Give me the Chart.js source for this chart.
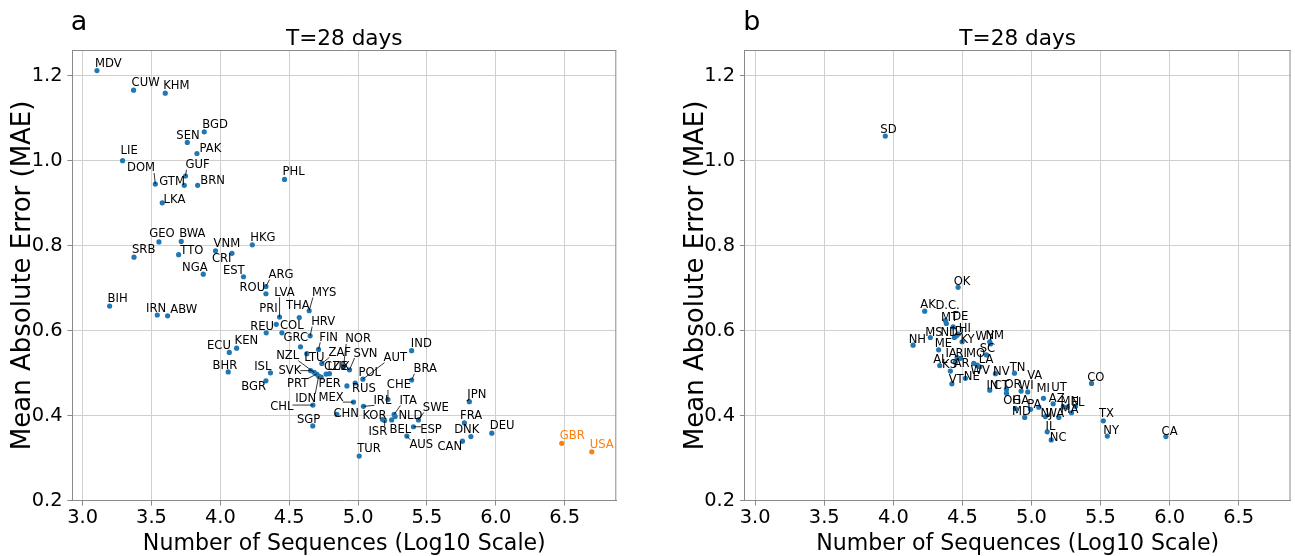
<!DOCTYPE html>
<html><head><meta charset="utf-8">
<script src="https://cdn.jsdelivr.net/npm/chart.js@4.4.1/dist/chart.umd.min.js"></script>
<style>
html,body{margin:0;padding:0;background:#fff;}
#wrap{position:relative;width:1295px;height:556px;overflow:hidden;background:#fff;}
canvas{position:absolute;top:0;}
</style></head><body>
<div id="wrap">
<canvas id="cA" width="660" height="556" style="left:0px;width:660px;height:556px"></canvas>
<canvas id="cB" width="635" height="556" style="left:660px;width:635px;height:556px"></canvas>
</div>
<script>
// ---------------- data ----------------
const panelTitle = 'T=28 days';
const xAxisTitle = 'Number of Sequences (Log10 Scale)';
const yAxisTitle = 'Mean Absolute Error (MAE)';
const xTickValues = [3.0, 3.5, 4.0, 4.5, 5.0, 5.5, 6.0, 6.5];
const yTickValues = [0.2, 0.4, 0.6, 0.8, 1.0, 1.2];
const highlightedCountries = ['GBR', 'USA'];

const countryNames = ['MDV','CUW','KHM','BGD','SEN','PAK','LIE','GUF','PHL','DOM','GTM','BRN','LKA','GEO','BWA','HKG','VNM','CRI','TTO','SRB','NGA','EST','ARG','ROU','BIH','MYS','IRN','ABW','LVA','THA','PRI','REU','COL','HRV','GRC','KEN','FIN','IND','ECU','LTU','ZAF','NOR','SVN','SVK','BHR','NZL','ISL','LUX','CZE','PRT','IDN','PER','AUT','BRA','BGR','POL','RUS','CHE','JPN','MEX','CHL','IRL','CHN','ITA','NLD','KOR','BEL','SWE','ISR','FRA','SGP','ESP','DEU','AUS','DNK','CAN','GBR','USA','TUR'];
const countryLog10Seqs = [3.104,3.370,3.600,3.883,3.760,3.830,3.290,3.747,4.466,3.528,3.738,3.835,3.578,3.554,3.716,4.232,3.965,4.084,3.697,3.373,3.876,4.168,4.331,4.331,3.196,4.645,3.542,3.617,4.430,4.573,4.406,4.333,4.447,4.652,4.582,4.118,4.713,5.389,4.065,4.628,4.737,4.894,4.938,4.656,4.057,4.681,4.364,4.792,4.768,4.700,4.714,4.732,5.035,5.389,4.331,4.979,4.919,5.217,5.808,4.967,4.672,5.039,4.846,5.262,5.269,5.178,5.244,5.438,5.193,5.772,4.671,5.402,5.971,5.354,5.819,5.758,6.479,6.697,5.008];
const countryMAE = [1.212,1.166,1.159,1.068,1.043,1.017,1.000,0.964,0.956,0.945,0.942,0.942,0.901,0.809,0.810,0.802,0.788,0.782,0.779,0.773,0.733,0.727,0.704,0.687,0.658,0.647,0.637,0.635,0.632,0.631,0.615,0.595,0.595,0.588,0.562,0.559,0.556,0.553,0.549,0.546,0.523,0.515,0.508,0.506,0.503,0.502,0.501,0.499,0.498,0.498,0.493,0.491,0.486,0.484,0.482,0.477,0.470,0.438,0.433,0.432,0.425,0.422,0.403,0.403,0.398,0.391,0.390,0.390,0.389,0.383,0.376,0.374,0.359,0.352,0.351,0.340,0.335,0.315,0.305];

const stateNames = ['SD','OK','AK','D.C.','MT','DE','MS','ND','ID','HI','NH','ME','KY','WY','NM','SC','IA','RI','MO','LA','WV','AL','KS','AR','VT','NE','NV','TN','IN','CT','OR','WI','VA','OH','MD','GA','PA','NJ','IL','NC','AZ','MI','UT','WA','MN','MA','FL','CO','TX','NY','CA'];
const stateLog10Seqs = [3.942,4.469,4.227,4.377,4.384,4.433,4.268,4.442,4.457,4.471,4.143,4.328,4.498,4.698,4.703,4.674,4.462,4.486,4.582,4.607,4.626,4.336,4.413,4.449,4.424,4.522,4.739,4.877,4.698,4.819,4.819,4.925,4.973,4.884,4.951,4.993,5.053,5.101,5.114,5.143,5.157,5.087,5.230,5.198,5.259,5.290,5.319,5.435,5.520,5.549,5.973];
const stateMAE = [1.058,0.702,0.646,0.624,0.617,0.609,0.584,0.584,0.588,0.592,0.566,0.555,0.574,0.574,0.569,0.543,0.537,0.535,0.523,0.519,0.515,0.518,0.505,0.526,0.475,0.488,0.499,0.500,0.460,0.462,0.453,0.458,0.456,0.417,0.396,0.415,0.420,0.398,0.362,0.343,0.428,0.441,0.421,0.396,0.420,0.407,0.422,0.476,0.388,0.352,0.351];

// ---------------- layout / style (not data) ----------------
const BLUE = '#1f77b4', ORANGE = '#ff7f0e';
const GRID = '#d0d0d0', SPINE = '#8a8a8a';
const FONT = 'DejaVu Sans';
const X_MIN = 2.925, X_MAX = 6.875, Y_MIN = 0.2, Y_MAX = 1.2605;

// label offsets in pixels (left, baseline) relative to the point
const countryLabelOffsets = {
 SEN:[-11,-3], PAK:[2.6,-1], LIE:[-2,-6.4], DOM:[-28.3,-12.6], GUF:[0,-7.7], GTM:[-25,0], BRN:[2.7,-1], LKA:[1.3,0],
 GEO:[-9.7,-4.7], TTO:[1.7,-0.7], CRI:[-20,8.4], NGA:[-21.3,-3.6], EST:[-20.6,-2.4], ARG:[2.6,-8.4], ROU:[-26.4,-2.7],
 LVA:[-5.3,-21.3], PRI:[-17,-12.3], THA:[-13.3,-9], MYS:[2.7,-14.7], REU:[-16,-3], HRV:[1,-10.7], GRC:[-17,-6],
 FIN:[0.7,-8.6], ECU:[-22.3,-3], IRN:[-11.3,-3.3], ABW:[2.7,-3], BHR:[-15.7,-3], ISL:[-16.3,-2.7], BGR:[-24.7,9.3],
 NZL:[-38,-13.2], LTU:[-2.7,7.5], ZAF:[6.6,-7.6], SVN:[4,-13.3], NOR:[1.7,-24.4], SVK:[-32.2,3.8], PRT:[-29.8,13.3],
 PER:[-2.7,10.3], POL:[3.3,-7.3], AUT:[20.6,-18], RUS:[5,5.7], IDN:[-23.5,26.3], MEX:[-35,-1.3], CHL:[-42.7,5],
 SGP:[-15.8,-3.3], CHN:[-3.4,2.2], IRL:[10,-2.5], CHE:[-1.1,-11.2], ITA:[5.3,-10.5], KOR:[-20.2,-0.2], ISR:[-16.2,14.5],
 NLD:[3.3,2.8], BEL:[-2.2,12.7], SWE:[4.4,-9], ESP:[6.7,6.6], AUS:[2.6,12.3], IND:[-0.8,-3.8], BRA:[1.8,-7.7],
 FRA:[-4.3,-3.7], DNK:[-16.7,-3.8], CAN:[-25,9]
};
const countryLeaders = ['DOM','GUF','GTM','ARG','LVA','MYS','HRV','FIN','NZL','ZAF','SVN','NOR','SVK','PRT','AUT','IDN','MEX','CHL','IRL','CHE','ITA','ISR','SWE','ESP','AUS','BRA'];
const stateLabelOffsets = {
 SD:[-5,-3], OK:[-4.4,-2.3], AK:[-4.3,-2.7], 'D.C.':[-10,-12], MT:[-5.3,-2.6], DE:[-1,-6.7], MS:[-5,-1.6], ND:[-14,-1.6],
 ID:[-5,-1], HI:[0.3,-2.3], NH:[-4.4,-2.3], ME:[-4,-2.7], KY:[-1.7,1.6], WY:[-14.3,-1.7], NM:[-5,-4.7], SC:[-6.7,-3.3],
 IA:[-11.7,-0.6], RI:[-5,-1.6], MO:[-7.6,-6.6], LA:[1.6,-1.7], AL:[-6.6,-2.8], KS:[-8.3,-2.7], AR:[-1.7,5.3], WV:[-9.3,7.3],
 NE:[-1.7,1.7], VT:[-3.2,-0.7], NV:[-2.3,1.5], TN:[-4.7,-2.6], VA:[-0.6,-13.4], IN:[-3.3,-1], CT:[-12.7,0], OR:[-2,-5],
 WI:[-2.4,-1.7], MI:[-7,-6.3], UT:[-12,-16], OH:[-12.3,-4.3], GA:[-18.3,-5], PA:[-11.6,0.4], AZ:[-4.4,-1.7], MN:[-6.7,-2],
 FL:[-4.3,-0.3], MD:[-12.6,-2.3], NJ:[-5,0], WA:[-13.3,-0.6], MA:[-11,0], IL:[-1.7,-1.7], NC:[-1.4,0.7], CO:[-4.3,-2.6],
 TX:[-4.4,-3.4], NY:[-4,-2], CA:[-4.3,-1.7]
};

Chart.defaults.font.family = FONT;

function makePanel(canvas, cfg) {
  const names = cfg.names, xs = cfg.xs, ys = cfg.ys;
  const normalPts = [], hiPts = [];
  names.forEach((n, i) => {
    const p = {x: xs[i], y: ys[i]};
    (cfg.highlight.includes(n) ? hiPts : normalPts).push(p);
  });

  const decor = {
    id: 'decor_' + canvas.id,
    afterDatasetsDraw(chart) {
      const {ctx, chartArea: ca, scales: {x, y}} = chart;
      ctx.save();
      // top & right spines
      ctx.strokeStyle = SPINE; ctx.lineWidth = 1;
      ctx.beginPath();
      ctx.moveTo(ca.left, ca.top + 0.5); ctx.lineTo(ca.right, ca.top + 0.5);
      ctx.moveTo(ca.right - 0.5, ca.top); ctx.lineTo(ca.right - 0.5, ca.bottom);
      ctx.stroke();
      // point labels
      ctx.font = '11.6px "' + FONT + '"';
      ctx.textAlign = 'left'; ctx.textBaseline = 'alphabetic';
      names.forEach((n, i) => {
        const px = x.getPixelForValue(xs[i]), py = y.getPixelForValue(ys[i]);
        const off = cfg.offsets[n] || cfg.defaultOffset;
        const lx = px + off[0], ly = py + off[1];
        const w = ctx.measureText(n).width;
        if (cfg.leaders.includes(n)) {
          const bx = Math.min(Math.max(px, lx + 1), lx + w - 1);
          const by = Math.min(Math.max(py, ly - 8.5), ly + 1.5);
          if (Math.hypot(bx - px, by - py) > 3) {
            ctx.strokeStyle = '#000'; ctx.lineWidth = 0.8;
            ctx.beginPath(); ctx.moveTo(bx, by); ctx.lineTo(px, py); ctx.stroke();
          }
        }
        ctx.fillStyle = cfg.highlight.includes(n) ? ORANGE : '#000';
        ctx.fillText(n, lx, ly);
      });
      // title and panel letter
      ctx.fillStyle = '#000';
      ctx.font = '21.6px "' + FONT + '"';
      ctx.textAlign = 'center';
      ctx.fillText(panelTitle, (ca.left + ca.right) / 2, 45);
      ctx.font = '27px "' + FONT + '"';
      ctx.textAlign = 'left';
      ctx.fillText(cfg.letter, ca.left - 1.5, 29.5);
      ctx.restore();
    }
  };

  return new Chart(canvas, {
    type: 'scatter',
    data: {
      datasets: [
        {data: normalPts, backgroundColor: BLUE, borderColor: BLUE, pointRadius: 2.6, pointHoverRadius: 2.6, borderWidth: 0},
        {data: hiPts, backgroundColor: ORANGE, borderColor: ORANGE, pointRadius: 2.6, pointHoverRadius: 2.6, borderWidth: 0}
      ]
    },
    options: {
      responsive: false, animation: false, devicePixelRatio: 1,
      events: [],
      layout: {padding: {top: 50, left: 0, right: cfg.padRight, bottom: 0}},
      plugins: {legend: {display: false}, tooltip: {enabled: false}, title: {display: false}},
      scales: {
        x: {
          type: 'linear', position: 'bottom', min: X_MIN, max: X_MAX,
          afterBuildTicks: s => { s.ticks = xTickValues.map(v => ({value: v})); },
          afterFit: s => { s.height = 556 - 500.7; },
          ticks: {color: '#000', font: {size: 19.4, family: FONT}, padding: 1.2, maxRotation: 0, autoSkip: false,
                  callback: v => Number(v).toFixed(1)},
          grid: {color: GRID, lineWidth: 1, drawTicks: true, tickLength: 4.9, tickColor: SPINE, tickWidth: 1},
          border: {display: true, color: SPINE, width: 1},
          title: {display: true, text: xAxisTitle, color: '#000', font: {size: 22.1, family: FONT, lineHeight: 1}, padding: {top: 0, bottom: 0.5}}
        },
        y: {
          type: 'linear', position: 'left', min: Y_MIN, max: Y_MAX,
          afterBuildTicks: s => { s.ticks = yTickValues.map(v => ({value: v})); },
          afterFit: s => { s.width = cfg.yAxisWidth; },
          ticks: {color: '#000', font: {size: 19.4, family: FONT}, padding: 4.9, autoSkip: false,
                  callback: v => Number(v).toFixed(1)},
          grid: {color: GRID, lineWidth: 1, drawTicks: true, tickLength: 4.9, tickColor: SPINE, tickWidth: 1},
          border: {display: true, color: SPINE, width: 1},
          title: {display: true, text: yAxisTitle, color: '#000', font: {size: 26, family: FONT, lineHeight: 1}, padding: {top: cfg.yTitlePad, bottom: 0}}
        }
      }
    },
    plugins: [decor]
  });
}

makePanel(document.getElementById('cA'), {
  names: countryNames, xs: countryLog10Seqs, ys: countryMAE,
  highlight: highlightedCountries, offsets: countryLabelOffsets, leaders: countryLeaders,
  defaultOffset: [-2, -4], letter: 'a', yAxisWidth: 72.3, padRight: 660 - 616.3, yTitlePad: 10.5
});
makePanel(document.getElementById('cB'), {
  names: stateNames, xs: stateLog10Seqs, ys: stateMAE,
  highlight: [], offsets: stateLabelOffsets, leaders: [],
  defaultOffset: [-4, -2.5], letter: 'b', yAxisWidth: 84.8, padRight: 635 - 630.5, yTitlePad: 23.2
});
</script>
</body></html>
